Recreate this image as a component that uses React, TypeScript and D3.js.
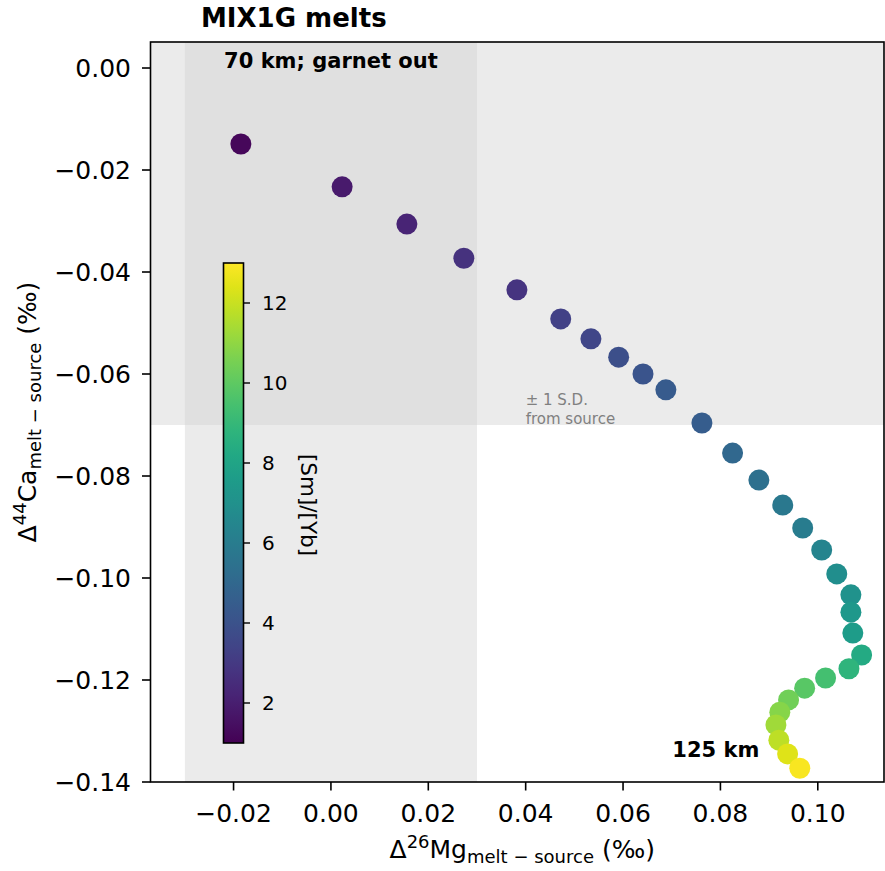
import React from 'react';
import * as d3 from 'd3';

// melt compositions relative to source
const dMg = [
  -0.0185, 0.0023, 0.0156, 0.0273, 0.0382, 0.0472, 0.0534, 0.0591, 0.0641, 0.0688,
  0.0762, 0.0825, 0.0879, 0.0928, 0.0969, 0.1008, 0.1039, 0.1068, 0.1068, 0.1072,
  0.109, 0.1064, 0.1016, 0.0973, 0.094, 0.0922, 0.0914, 0.092, 0.0938, 0.0963,
];
const dCa = [
  -0.0149, -0.0233, -0.0306, -0.0373, -0.0435, -0.0492, -0.0531, -0.0567, -0.06, -0.0631,
  -0.0696, -0.0755, -0.0808, -0.0857, -0.0902, -0.0945, -0.0992, -0.1033, -0.1067, -0.1108,
  -0.1151, -0.1178, -0.1196, -0.1216, -0.1239, -0.1263, -0.1288, -0.1318, -0.1345, -0.1373,
];
const smYb = [
  1.2, 1.8, 2.2, 2.7, 2.8, 3.3, 3.5, 3.9, 4.1, 4.4,
  4.5, 5.0, 5.4, 5.8, 6.0, 6.4, 6.9, 7.1, 7.4, 7.6,
  8.3, 8.8, 9.4, 9.9, 10.4, 10.8, 11.3, 11.8, 12.4, 12.9,
];

const xTicks = [-0.02, 0.0, 0.02, 0.04, 0.06, 0.08, 0.1];
const yTicks = [0.0, -0.02, -0.04, -0.06, -0.08, -0.1, -0.12, -0.14];
const cbTicks = [2, 4, 6, 8, 10, 12];

const garnetBand = [-0.03, 0.03];
const sdLimit = -0.07;

const left = 150.5, right = 884, top = 42, bottom = 782;

export default function App() {
  const x = d3.scaleLinear().domain([-0.03706, 0.1136]).range([left, right]);
  const y = d3.scaleLinear().domain([-0.14, 0.0051]).range([bottom, top]);
  const color = d3.scaleSequential(d3.interpolateViridis).domain([1, 13]);
  const cb = d3.scaleLinear().domain([1, 13]).range([743, 263]);
  const fmt = (v: number) => d3.format('.2f')(v).replace('-', '\u2212');
  const font = 'DejaVu Sans, sans-serif';
  const stops = d3.range(0, 1.0001, 0.05);

  return (
    <svg width={885} height={871} style={{ position: 'absolute', left: 0, top: 0 }} fontFamily={font}>
      <defs>
        <linearGradient id="vir" x1="0" y1="1" x2="0" y2="0">
          {stops.map(t => (
            <stop key={t} offset={t} stopColor={d3.interpolateViridis(t)} />
          ))}
        </linearGradient>
      </defs>
      <rect width={885} height={871} fill="#fff" />

      {/* shaded regions */}
      <rect x={x(garnetBand[0])} y={top} width={x(garnetBand[1]) - x(garnetBand[0])} height={bottom - top} fill="#ebebeb" />
      <rect x={left} y={top} width={right - left} height={y(sdLimit) - top} fill="#ebebeb" />
      <rect x={x(garnetBand[0])} y={top} width={x(garnetBand[1]) - x(garnetBand[0])} height={y(sdLimit) - top} fill="#e0e0e0" />

      <text x={x(0.04)} y={405} fontSize={15} fill="#808080">± 1 S.D.</text>
      <text x={x(0.04)} y={424} fontSize={15} fill="#808080">from source</text>

      {dMg.map((d, i) => (
        <circle key={i} cx={x(d)} cy={y(dCa[i])} r={10.5} fill={color(smYb[i])} />
      ))}

      <text x={x(0)} y={y(0)} fontSize={21} fontWeight="bold" textAnchor="middle">70 km; garnet out</text>
      <text x={x(0.088)} y={757} fontSize={21} fontWeight="bold" textAnchor="end">125 km</text>

      {/* axes frame */}
      <rect x={left} y={top} width={right - left} height={bottom - top} fill="none" stroke="#000" strokeWidth={1.6} />

      {xTicks.map(t => (
        <g key={t}>
          <line x1={x(t)} x2={x(t)} y1={bottom} y2={bottom + 8.5} stroke="#000" strokeWidth={1.6} />
          <text x={x(t)} y={822} fontSize={25} textAnchor="middle">{fmt(t)}</text>
        </g>
      ))}
      {yTicks.map(t => (
        <g key={t}>
          <line x1={left - 8.5} x2={left} y1={y(t)} y2={y(t)} stroke="#000" strokeWidth={1.6} />
          <text x={131} y={y(t)} fontSize={25} textAnchor="end" dominantBaseline="central">{fmt(t)}</text>
        </g>
      ))}

      <text x={(left + right) / 2 + 5} y={858} fontSize={25} textAnchor="middle">
        Δ<tspan fontSize={18} dy={-10}>26</tspan><tspan dy={10}>Mg</tspan>
        <tspan fontSize={18} dy={5}>melt − source</tspan><tspan dy={-5}> (‰)</tspan>
      </text>
      <text transform={`translate(36,${(top + bottom) / 2}) rotate(-90)`} fontSize={25} textAnchor="middle">
        Δ<tspan fontSize={18} dy={-10}>44</tspan><tspan dy={10}>Ca</tspan>
        <tspan fontSize={18} dy={5}>melt − source</tspan><tspan dy={-5}> (‰)</tspan>
      </text>

      <text x={201} y={27} fontSize={26} fontWeight="bold">MIX1G melts</text>

      {/* colorbar */}
      <rect x={223.5} y={cb(13)} width={20} height={cb(1) - cb(13)} fill="url(#vir)" stroke="#000" strokeWidth={1.6} />
      {cbTicks.map(t => (
        <g key={t}>
          <line x1={243.5} x2={250} y1={cb(t)} y2={cb(t)} stroke="#000" strokeWidth={1.4} />
          <text x={262} y={cb(t)} fontSize={20} dominantBaseline="central">{t}</text>
        </g>
      ))}
      <text transform={`translate(301,505) rotate(90)`} fontSize={21.5} textAnchor="middle">[Sm]/[Yb]</text>
    </svg>
  );
}
